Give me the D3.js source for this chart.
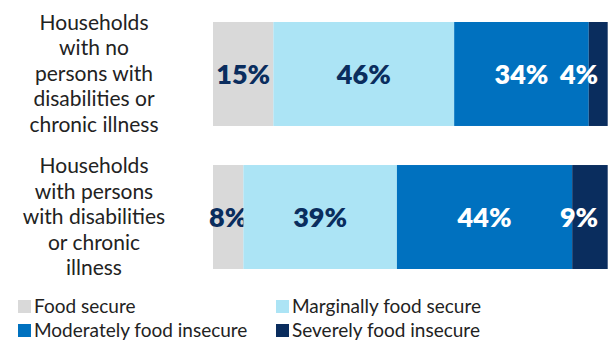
<!DOCTYPE html>
<html><head><meta charset="utf-8">
<script src="https://cdn.jsdelivr.net/npm/d3@7"></script>
<style>body{margin:0;background:#fff}svg{display:block}</style>
</head><body>
<svg id="chart" width="613" height="345"></svg>
<script>
const categories = [
  ["Households","with no","persons with","disabilities or","chronic illness"],
  ["Households","with persons","with disabilities","or chronic","illness"]
];
const seriesNames = ["Food secure","Marginally food secure","Moderately food insecure","Severely food insecure"];
const foodSecure = [15.3, 7.7];
const marginal = [45.8, 38.9];
const moderate = [34.1, 44.4];
const severe = [4.8, 9.0];
const labelsRow1 = ["15%","46%","34%","4%"];
const labelsRow2 = ["8%","39%","44%","9%"];
const colors = ["#d9d9d9","#ace4f5","#0071bf","#0a2d5e"];
const labelColors = ["#0a2d5e","#0a2d5e","#ffffff","#ffffff"];

const svg = d3.select("#chart");
const rows = categories.map((c,i)=>({id:i, s0:foodSecure[i], s1:marginal[i], s2:moderate[i], s3:severe[i]}));
const keys = ["s0","s1","s2","s3"];
const stacked = d3.stack().keys(keys)(rows);
const labels = [labelsRow1, labelsRow2];

const x = d3.scaleLinear().domain([0,100]).range([213,607.7]);
const y = d3.scaleBand().domain([0,1]).range([22,269]).paddingInner(0.273).paddingOuter(0);

const gBars = svg.append("g");
stacked.forEach((layer,k)=>{
  gBars.selectAll(null).data(layer).join("rect")
    .attr("x", d=>x(d[0])).attr("width", d=>x(d[1])-x(d[0]))
    .attr("y", (d,i)=>y(i)).attr("height", y.bandwidth())
    .attr("fill", colors[k]);
  gBars.selectAll(null).data(layer).join("text")
    .attr("x", d=> k===3 ? x(100)-9.5 : (x(d[0])+x(d[1]))/2)
    .attr("text-anchor", k===3 ? "end" : "middle")
    .attr("y", (d,i)=>y(i)+y.bandwidth()/2+10)
    .attr("fill", labelColors[k])
    .style("font-family","Lato, sans-serif").style("font-weight","800").style("font-size","27px")
    .text((d,i)=>labels[i][k]);
});

// category labels
categories.forEach((lines,i)=>{
  const cy = y(i)+y.bandwidth()/2;
  const t = svg.append("text").attr("text-anchor","middle")
    .style("font-family","Lato, sans-serif").style("font-size","21px").attr("fill","#222");
  lines.forEach((l,j)=>{
    t.append("tspan").attr("x",94).attr("y", cy+7+(j-2)*25.5).text(l);
  });
});

// legend
const legPos = [[18,313],[276,313],[18,337],[276,337]];
seriesNames.forEach((n,k)=>{
  const g = svg.append("g").attr("transform",`translate(${legPos[k][0]},${legPos[k][1]})`);
  g.append("rect").attr("x",0).attr("y",-13).attr("width",13).attr("height",13).attr("fill",colors[k]);
  g.append("text").attr("x",16).attr("y",0)
    .style("font-family","Lato, sans-serif").style("font-size","19px").attr("fill","#222").text(n);
});
</script>
</body></html>
